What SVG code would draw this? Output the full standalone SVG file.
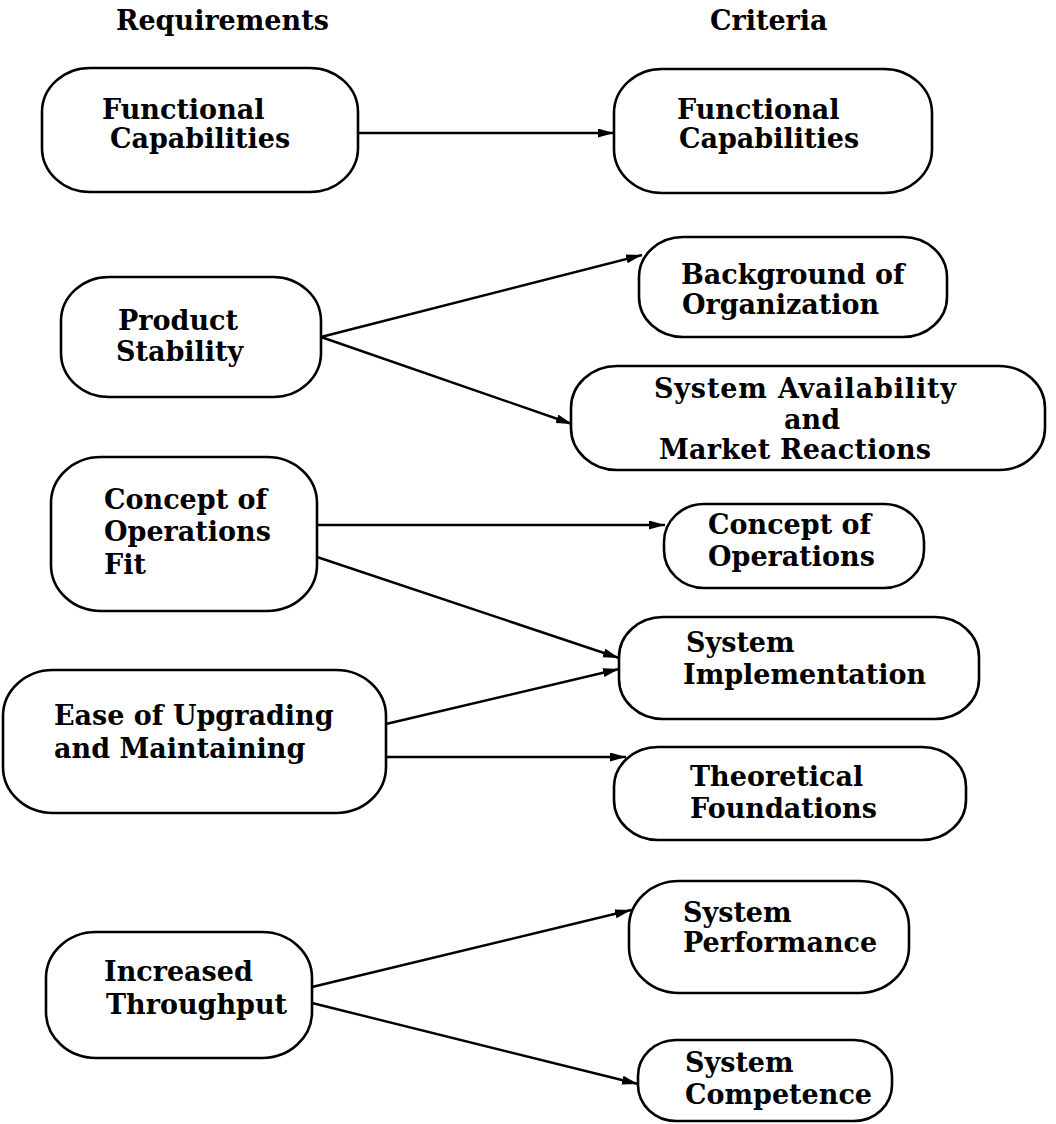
<svg xmlns="http://www.w3.org/2000/svg" width="1056" height="1124" viewBox="0 0 1056 1124">
<style>
  .node rect { fill: #ffffff; stroke: #000000; stroke-width: 2.6; }
  .node text, .hdr { font-family: "DejaVu Serif", "Liberation Serif", serif; font-weight: bold; font-size: 27px; fill: #000000; }
  .conn line { stroke: #000000; stroke-width: 2.4; marker-end: url(#arrow); }
</style>
<defs>
  <marker id="arrow" markerUnits="userSpaceOnUse" markerWidth="17" markerHeight="10" refX="16" refY="4.5" orient="auto">
    <path d="M0,0 L16,4.5 L0,9 Z" fill="#000000"/>
  </marker>
</defs>
<rect x="0" y="0" width="1056" height="1124" fill="#ffffff"/>
<text class="hdr" x="116" y="30">Requirements</text>
<text class="hdr" x="710" y="30">Criteria</text>

<g id="conn" class="conn">
  <line x1="358" y1="133" x2="614" y2="133"/>
  <line x1="321" y1="337" x2="642" y2="255"/>
  <line x1="321" y1="337" x2="572" y2="424"/>
  <line x1="317" y1="525" x2="665" y2="525"/>
  <line x1="317" y1="557" x2="619" y2="658"/>
  <line x1="386" y1="724" x2="619" y2="669"/>
  <line x1="386" y1="757" x2="626" y2="757"/>
  <line x1="312" y1="987" x2="631" y2="910"/>
  <line x1="312" y1="1003" x2="638" y2="1084"/>
</g>

<g id="req-functional" class="node">
  <rect x="42" y="68" width="316" height="124" rx="48" ry="44"/>
  <text x="102" y="119">Functional</text>
  <text x="110" y="148">Capabilities</text>
</g>
<g id="crit-functional" class="node">
  <rect x="614" y="69" width="318" height="124" rx="48" ry="44"/>
  <text x="677" y="119">Functional</text>
  <text x="679" y="148">Capabilities</text>
</g>
<g id="req-product-stability" class="node">
  <rect x="61" y="277" width="260" height="120" rx="48" ry="44"/>
  <text x="118" y="330">Product</text>
  <text x="116" y="361">Stability</text>
</g>
<g id="crit-background" class="node">
  <rect x="639" y="237" width="308" height="100" rx="44" ry="40"/>
  <text x="681" y="284">Background of</text>
  <text x="682" y="314">Organization</text>
</g>
<g id="crit-availability" class="node">
  <rect x="571" y="366" width="474" height="104" rx="46" ry="42"/>
  <text x="654" y="398" textLength="302">System Availability</text>
  <text x="784" y="429">and</text>
  <text x="659" y="459" textLength="272">Market Reactions</text>
</g>
<g id="req-concept-fit" class="node">
  <rect x="51" y="457" width="266" height="154" rx="50" ry="46"/>
  <text x="104" y="509">Concept of</text>
  <text x="104" y="541">Operations</text>
  <text x="104" y="574">Fit</text>
</g>
<g id="crit-concept" class="node">
  <rect x="664" y="504" width="260" height="84" rx="40" ry="38"/>
  <text x="708" y="534">Concept of</text>
  <text x="708" y="566">Operations</text>
</g>
<g id="crit-implementation" class="node">
  <rect x="619" y="617" width="360" height="102" rx="44" ry="40"/>
  <text x="686" y="652">System</text>
  <text x="683" y="684">Implementation</text>
</g>
<g id="req-ease" class="node">
  <rect x="3" y="670" width="383" height="143" rx="50" ry="46"/>
  <text x="54" y="725">Ease of Upgrading</text>
  <text x="54" y="758">and Maintaining</text>
</g>
<g id="crit-theoretical" class="node">
  <rect x="614" y="747" width="352" height="93" rx="44" ry="40"/>
  <text x="690" y="786">Theoretical</text>
  <text x="690" y="818">Foundations</text>
</g>
<g id="crit-performance" class="node">
  <rect x="629" y="881" width="280" height="112" rx="50" ry="46"/>
  <text x="683" y="922">System</text>
  <text x="683" y="952">Performance</text>
</g>
<g id="crit-competence" class="node">
  <rect x="638" y="1040" width="254" height="81" rx="38" ry="36"/>
  <text x="685" y="1072">System</text>
  <text x="685" y="1104">Competence</text>
</g>
<g id="req-throughput" class="node">
  <rect x="46" y="932" width="266" height="126" rx="50" ry="46"/>
  <text x="104" y="981">Increased</text>
  <text x="106" y="1014">Throughput</text>
</g>
</svg>
